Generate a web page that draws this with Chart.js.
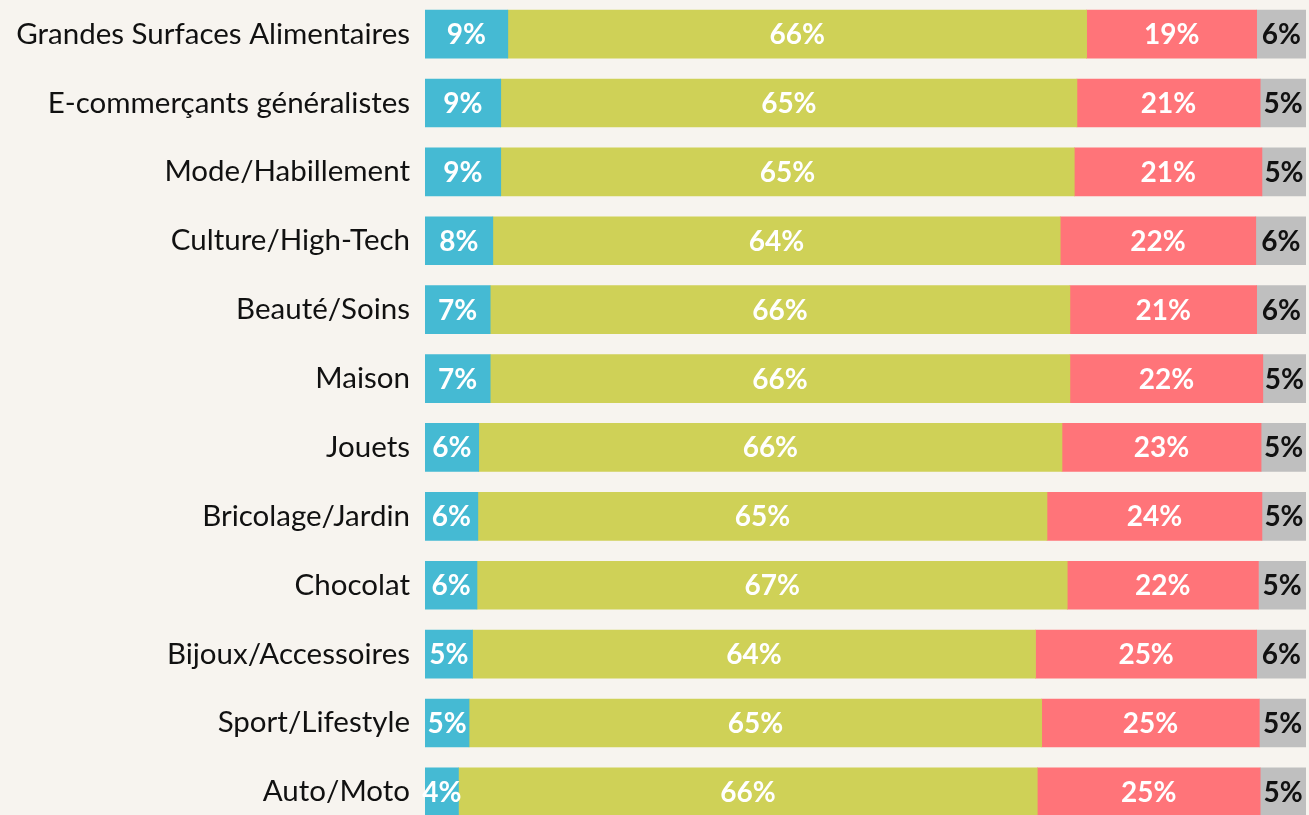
<!DOCTYPE html>
<html>
<head>
<meta charset="utf-8">
<script src="https://cdn.jsdelivr.net/npm/chart.js@4"></script>
<style>
  html, body { margin: 0; padding: 0; background: #F7F4EF; overflow: hidden; }
  #wrap { position: absolute; left: 0; top: -33px; width: 1309px; height: 892px; }
</style>
</head>
<body>
<div id="wrap"><canvas id="chart"></canvas></div>
<script>
const categories = [
  'Grandes Surfaces Alimentaires',
  'E-commerçants généralistes',
  'Mode/Habillement',
  'Culture/High-Tech',
  'Beauté/Soins',
  'Maison',
  'Jouets',
  'Bricolage/Jardin',
  'Chocolat',
  'Bijoux/Accessoires',
  'Sport/Lifestyle',
  'Auto/Moto'
];

// shares in %, one value per category
const blue  = [9.4, 8.6, 8.6, 7.7, 7.4, 7.4, 6.1, 6.0, 5.9, 5.4, 5.0, 3.8];
const green = [65.7, 65.4, 65.1, 64.4, 65.8, 65.8, 66.2, 64.6, 67.0, 63.9, 65.0, 65.7];
const red   = [19.3, 20.8, 21.3, 22.2, 21.2, 21.9, 22.6, 24.4, 21.7, 25.1, 24.7, 25.3];
const gray  = [5.6, 5.2, 5.0, 5.7, 5.6, 4.9, 5.1, 5.0, 5.4, 5.6, 5.3, 5.2];

const FONT = 'Lato, "Open Sans", sans-serif';

const barLabels = {
  id: 'barLabels',
  afterDatasetsDraw(chart) {
    const ctx = chart.ctx;
    ctx.save();
    ctx.font = 'bold 28px ' + FONT;
    ctx.textAlign = 'center';
    ctx.textBaseline = 'middle';
    chart.data.datasets.forEach((ds, i) => {
      const meta = chart.getDatasetMeta(i);
      ctx.fillStyle = ds.labelColor;
      meta.data.forEach((bar, j) => {
        const x = (bar.x + bar.base) / 2;
        ctx.fillText(Math.round(ds.data[j]) + '%', x, bar.y + 1);
      });
    });
    ctx.restore();
  }
};

function series(data, color, labelColor) {
  return {
    data: data,
    backgroundColor: color,
    labelColor: labelColor,
    borderWidth: 0,
    barThickness: 48
  };
}

new Chart(document.getElementById('chart'), {
  type: 'bar',
  plugins: [barLabels],
  data: {
    labels: categories,
    datasets: [
      series(blue, '#45BAD3', '#FFFFFF'),
      series(green, '#CFD157', '#FFFFFF'),
      series(red, '#FF7479', '#FFFFFF'),
      series(gray, '#BFBFBF', '#111111')
    ]
  },
  options: {
    indexAxis: 'y',
    responsive: true,
    maintainAspectRatio: false,
    animation: false,
    layout: { padding: { top: 0, right: 3, bottom: 0, left: 0 } },
    plugins: {
      legend: { display: false },
      tooltip: { enabled: false }
    },
    scales: {
      x: {
        stacked: true,
        display: false,
        min: 0,
        max: 100
      },
      y: {
        stacked: true,
        grid: { display: false, drawTicks: false },
        border: { display: false },
        ticks: {
          color: '#111111',
          padding: 15,
          font: { family: FONT, size: 29.5 }
        },
        afterFit: scale => { scale.width = 425; }
      }
    }
  }
});
</script>
</body>
</html>
